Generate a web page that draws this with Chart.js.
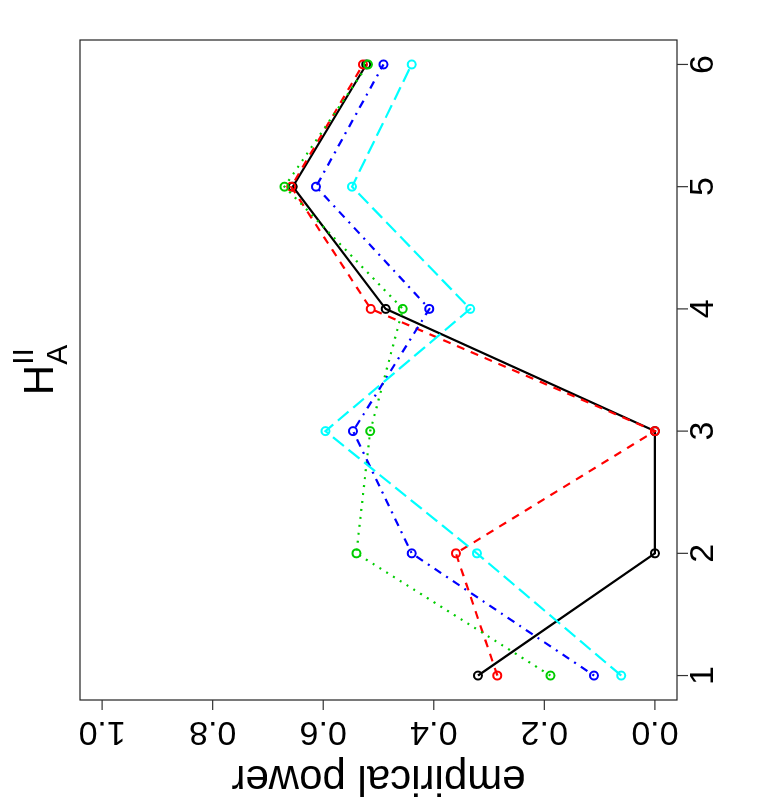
<!DOCTYPE html>
<html>
<head>
<meta charset="utf-8">
<script src="https://cdn.jsdelivr.net/npm/chart.js@4/dist/chart.umd.min.js"></script>
<style>
html,body{margin:0;padding:0;background:#fff;overflow:hidden;width:777px;height:800px;}
#wrap{position:absolute;left:0;top:0;width:800px;height:777px;transform-origin:0 0;transform:translateY(800px) rotate(-90deg);}
canvas{display:block;}
</style>
</head>
<body>
<div id="wrap"><canvas id="c" width="800" height="777"></canvas></div>
<script>
// categories (x axis of the original, un-rotated plot)
const categories = [1, 2, 3, 4, 5, 6];
const xTickLabels = ["1", "2", "3", "4", "5", "6"];
const yTickValues = [0, 0.2, 0.4, 0.6, 0.8, 1.0];
const yTickLabels = ["0.0", "0.2", "0.4", "0.6", "0.8", "1.0"];
// series values (empirical power)
const blackValues = [0.320, 0.000, 0.000, 0.487, 0.655, 0.522];
const redValues   = [0.285, 0.360, 0.000, 0.514, 0.658, 0.528];
const greenValues = [0.189, 0.540, 0.515, 0.456, 0.670, 0.519];
const blueValues  = [0.110, 0.440, 0.546, 0.408, 0.613, 0.491];
const cyanValues  = [0.061, 0.322, 0.596, 0.334, 0.548, 0.440];
const yAxisTitle = "empirical power";

const FONT = "'Liberation Sans', Arial, Helvetica, sans-serif";

function mk(values, color, dash, order) {
  return {
    data: categories.map((c, i) => ({x: c, y: values[i]})),
    borderColor: color,
    backgroundColor: 'rgba(0,0,0,0)',
    borderWidth: 2.2,
    borderDash: dash,
    borderCapStyle: 'butt',
    pointStyle: 'circle',
    pointRadius: 4,
    pointBorderWidth: 2,
    pointBorderColor: color,
    pointBackgroundColor: 'rgba(0,0,0,0)',
    showLine: true,
    tension: 0,
    order: order
  };
}

const decor = {
  id: 'decor',
  afterDraw(chart) {
    const ctx = chart.ctx;
    const a = chart.chartArea;
    const xs = chart.scales.x, ys = chart.scales.y;
    ctx.save();
    ctx.strokeStyle = '#222';
    ctx.lineWidth = 1.2;
    ctx.strokeRect(a.left, a.top, a.right - a.left, a.bottom - a.top);
    ctx.fillStyle = '#000';
    ctx.strokeStyle = '#333';
    // x ticks + labels
    ctx.font = '34px ' + FONT;
    ctx.textAlign = 'center';
    ctx.textBaseline = 'alphabetic';
    categories.forEach((c, i) => {
      const px = xs.getPixelForValue(c);
      ctx.beginPath(); ctx.moveTo(px, a.bottom); ctx.lineTo(px, a.bottom + 11); ctx.stroke();
      ctx.fillText(xTickLabels[i], px, 713);
    });
    // y ticks + labels (rotated)
    yTickValues.forEach((v, i) => {
      const py = ys.getPixelForValue(v);
      ctx.beginPath(); ctx.moveTo(a.left, py); ctx.lineTo(a.left - 10, py); ctx.stroke();
      ctx.save();
      ctx.translate(78, py);
      ctx.rotate(-Math.PI / 2);
      ctx.fillText(yTickLabels[i], 0, 0);
      ctx.restore();
    });
    // y axis title
    ctx.save();
    ctx.translate(34, (a.top + a.bottom) / 2);
    ctx.rotate(-Math.PI / 2);
    ctx.font = '42px ' + FONT;
    ctx.fillText(yAxisTitle, 0, 0);
    ctx.restore();
    // main title H_A^II
    const cx = (a.left + a.right) / 2;
    ctx.textAlign = 'left';
    ctx.font = '42px ' + FONT;
    const wH = ctx.measureText('H').width;
    ctx.font = '30px ' + FONT;
    const wA = ctx.measureText('A').width;
    const wII = ctx.measureText('II').width;
    const total = wH + Math.max(wA, wII);
    const x0 = cx - total / 2;
    ctx.font = '42px ' + FONT;
    ctx.fillText('H', x0, 53);
    ctx.font = '30px ' + FONT;
    ctx.fillText('A', x0 + wH, 67);
    ctx.fillText('II', x0 + wH, 33);
    ctx.restore();
  }
};

new Chart(document.getElementById('c'), {
  type: 'scatter',
  data: {
    datasets: [
      mk(blackValues, '#000000', [], 5),
      mk(redValues, '#FF0000', [8, 7], 4),
      mk(greenValues, '#00CD00', [2, 6], 3),
      mk(blueValues, '#0000FF', [2, 6, 8, 6], 2),
      mk(cyanValues, '#00FFFF', [14, 6], 1)
    ]
  },
  options: {
    responsive: false,
    devicePixelRatio: 1,
    animation: false,
    layout: {padding: {left: 100, right: 40, top: 80, bottom: 100}},
    plugins: {legend: {display: false}, tooltip: {enabled: false}},
    scales: {
      x: {type: 'linear', min: 0.8, max: 6.2, display: false},
      y: {type: 'linear', min: -0.04, max: 1.04, display: false}
    }
  },
  plugins: [decor]
});
</script>
</body>
</html>
